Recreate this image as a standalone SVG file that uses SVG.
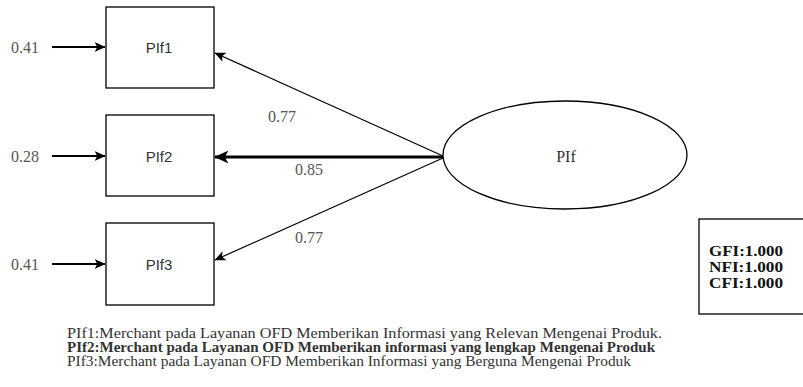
<svg xmlns="http://www.w3.org/2000/svg" width="803" height="387" viewBox="0 0 803 387">
<defs>
<marker id="ah" viewBox="0 0 10 10" refX="9.5" refY="5" markerWidth="11" markerHeight="11" orient="auto" markerUnits="userSpaceOnUse">
<path d="M0,0.5 L10,5 L0,9.5 L2.5,5 Z" fill="#000"/>
</marker>
<marker id="ahb" viewBox="0 0 10 10" refX="9.5" refY="5" markerWidth="14" markerHeight="14" orient="auto" markerUnits="userSpaceOnUse">
<path d="M0,0.5 L10,5 L0,9.5 L2.5,5 Z" fill="#000"/>
</marker>
</defs>
<style>
.box{fill:#fff;stroke:#000;stroke-width:1.3}
.lbl{font-family:"Liberation Sans",Arial,sans-serif;font-size:15px;fill:#333}
.num{font-family:"Liberation Serif","Times New Roman",serif;font-size:16px;fill:#555}
.ser{font-family:"Liberation Serif","Times New Roman",serif;fill:#333}
.fit{font-family:"Liberation Serif","Times New Roman",serif;font-size:14.5px;font-weight:bold;fill:#111}
.c{fill:none;stroke:#000;stroke-width:1.2}
</style>
<rect width="803" height="387" fill="#fff"/>
<g id="connectors">
<line class="c" x1="52" y1="47" x2="105" y2="47" style="stroke-width:1.8" marker-end="url(#ah)"/>
<line class="c" x1="52" y1="156" x2="105" y2="156" style="stroke-width:1.8" marker-end="url(#ah)"/>
<line class="c" x1="52" y1="264" x2="105" y2="264" style="stroke-width:1.8" marker-end="url(#ah)"/>
<line class="c" x1="443" y1="156" x2="215" y2="53" marker-end="url(#ah)"/>
<line class="c" x1="443" y1="157" x2="215" y2="157" style="stroke-width:3" marker-end="url(#ahb)"/>
<line class="c" x1="443" y1="158" x2="215" y2="260" marker-end="url(#ah)"/>
<text class="num" x="11" y="53">0.41</text>
<text class="num" x="11" y="162">0.28</text>
<text class="num" x="11" y="270">0.41</text>
<text class="num" x="268" y="122">0.77</text>
<text class="num" x="295" y="175">0.85</text>
<text class="num" x="295" y="243">0.77</text>
</g>
<g id="PIf1">
<rect class="box" x="106" y="7" width="108" height="81"/>
<text class="lbl" x="159" y="53" text-anchor="middle">PIf1</text>
</g>
<g id="PIf2">
<rect class="box" x="106" y="115" width="108" height="81"/>
<text class="lbl" x="159" y="162" text-anchor="middle">PIf2</text>
</g>
<g id="PIf3">
<rect class="box" x="106" y="223" width="108" height="82"/>
<text class="lbl" x="159" y="270" text-anchor="middle">PIf3</text>
</g>
<g id="PIf">
<ellipse cx="565" cy="155" rx="122" ry="54" fill="#fff" stroke="#000" stroke-width="1.3"/>
<text class="ser" x="566" y="162" font-size="16" text-anchor="middle">PIf</text>
</g>
<g id="fit">
<rect x="699" y="219" width="110" height="95" fill="#fff" stroke="#000" stroke-width="1.3"/>
<text class="fit" x="709" y="256" textLength="74" lengthAdjust="spacingAndGlyphs">GFI:1.000</text>
<text class="fit" x="709" y="272" textLength="74" lengthAdjust="spacingAndGlyphs">NFI:1.000</text>
<text class="fit" x="709" y="288" textLength="74" lengthAdjust="spacingAndGlyphs">CFI:1.000</text>
</g>
<g id="legend">
<text class="ser" x="67" y="338" font-size="14" textLength="595" lengthAdjust="spacingAndGlyphs">PIf1:Merchant pada Layanan OFD Memberikan Informasi yang Relevan Mengenai Produk.</text>
<text class="ser" x="67" y="352" font-size="14" font-weight="bold" fill="#111" textLength="588" lengthAdjust="spacingAndGlyphs">PIf2:Merchant pada Layanan OFD Memberikan informasi yang lengkap Mengenai Produk</text>
<text class="ser" x="67" y="366" font-size="14" textLength="564" lengthAdjust="spacingAndGlyphs">PIf3:Merchant pada Layanan OFD Memberikan Informasi yang Berguna Mengenai Produk</text>
</g>
</svg>
